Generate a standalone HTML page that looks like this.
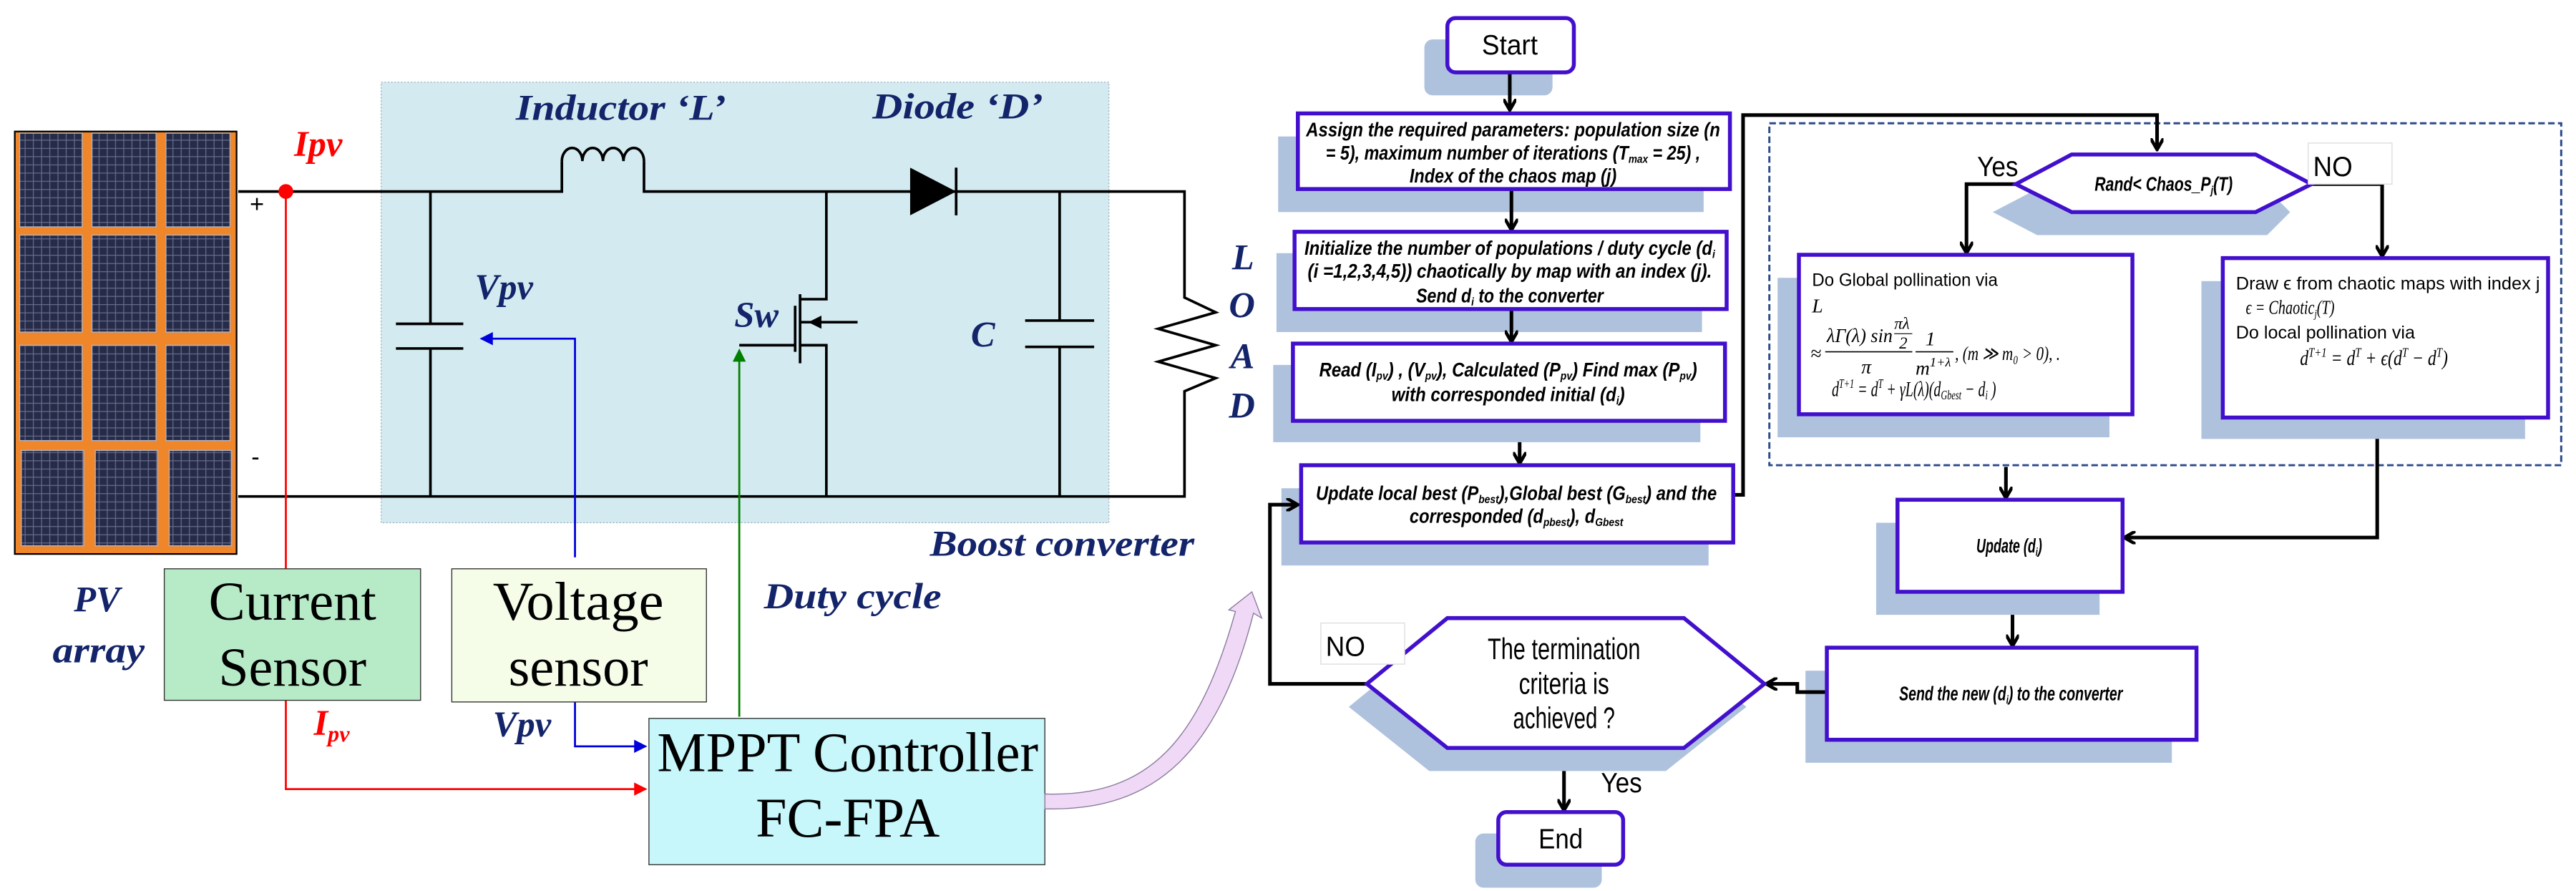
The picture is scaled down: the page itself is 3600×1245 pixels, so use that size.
<!DOCTYPE html>
<html><head><meta charset="utf-8"><style>
html,body{margin:0;padding:0;background:#fff}
svg{display:block}
.lab{font-family:"Liberation Serif",serif;font-style:italic;font-weight:bold;fill:#13246a}
.big{font-family:"Liberation Serif",serif;fill:#000}
.fc{font-family:"Liberation Sans",sans-serif;font-style:italic;font-weight:bold;fill:#000}
.fn{font-family:"Liberation Sans",sans-serif;fill:#000}
.m{font-family:"Liberation Serif",serif;font-style:italic;fill:#000}
.bx{fill:#fff;stroke:#4210cc;stroke-width:2.4}
.sh{fill:#afc2dd}
.ar{stroke:#000;stroke-width:2.2;fill:none}
</style></head><body>
<svg width="3600" height="1245" viewBox="0 0 1568 542" preserveAspectRatio="none" xmlns="http://www.w3.org/2000/svg">
<defs>
<marker id="ab" markerWidth="8" markerHeight="8" refX="6" refY="4" orient="auto" markerUnits="userSpaceOnUse"><path d="M0,0 L7,4 L0,8" fill="none" stroke="#000" stroke-width="2"/></marker>
<marker id="abl" markerWidth="8" markerHeight="8" refX="7" refY="4" orient="auto" markerUnits="userSpaceOnUse"><path d="M0,0 L8,4 L0,8 Z" fill="#0000dd"/></marker>
<marker id="ar" markerWidth="8" markerHeight="8" refX="7" refY="4" orient="auto" markerUnits="userSpaceOnUse"><path d="M0,0 L8,4 L0,8 Z" fill="#ff0000"/></marker>
<marker id="ag" markerWidth="8" markerHeight="8" refX="7" refY="4" orient="auto" markerUnits="userSpaceOnUse"><path d="M0,0 L8,4 L0,8 Z" fill="#008000"/></marker>
<pattern id="pv" width="5" height="5" patternUnits="userSpaceOnUse"><rect width="5" height="5" fill="#262c48"/><path d="M0,0.3H5M0.3,0V5" stroke="#6a7090" stroke-width="0.5"/></pattern>
</defs>

<!-- PV array -->
<rect x="9" y="80" width="135" height="257" fill="#f0862a" stroke="#000" stroke-width="1"/>
<g fill="url(#pv)" stroke="#b0b4c4" stroke-width="0.6">
<rect x="12" y="81" width="38" height="57"/><rect x="56" y="81" width="39" height="57"/><rect x="101" y="81" width="39" height="57"/>
<rect x="12" y="143" width="38" height="59"/><rect x="56" y="143" width="39" height="59"/><rect x="101" y="143" width="39" height="59"/>
<rect x="12" y="210" width="38" height="58"/><rect x="56" y="210" width="39" height="58"/><rect x="101" y="210" width="39" height="58"/>
<rect x="13" y="274" width="38" height="58"/><rect x="58" y="274" width="38" height="58"/><rect x="103" y="274" width="38" height="58"/>
</g>

<!-- boost box -->
<rect x="232" y="50" width="443" height="268" fill="#d3ebf0" stroke="#9ab" stroke-width="0.5" stroke-dasharray="1,1"/>

<!-- wires -->
<g stroke="#000" stroke-width="1.6" fill="none">
<path d="M145,116.5 H342 V98 M392,98 V116.5 H721 V181 L740,190 L705,200 L740,210 L705,220 L740,230 L721,238 V302 H145"/>
<path d="M342,98 a6.25,8 0 0 1 12.5,0 a6.25,8 0 0 1 12.5,0 a6.25,8 0 0 1 12.5,0 a6.25,8 0 0 1 12.5,0"/>
<path d="M262,116.5 V197 M262,212 V302 M241,197 H282 M241,212 H282"/>
<path d="M645,116.5 V195 M645,211 V302 M624,195 H666 M624,211 H666"/>
<path d="M503,116.5 V182 H487 M487,179 V221 M484,186 V214 M450,210 H484 M487,210 H503 V302 M487,196 H522"/>
<path d="M582,102 V131"/>
</g>
<path d="M554,102 L582,116.5 L554,131 Z" fill="#000"/>
<path d="M492,196 L500,192 L500,200 Z" fill="#000"/>
<circle cx="174" cy="116.5" r="4.5" fill="#ff0000"/>
<text x="152" y="129" class="fn" font-size="15">+</text>
<text x="153" y="283" class="fn" font-size="15">-</text>

<!-- signal lines -->
<path d="M174,116.5 V346 M174,426 V480 H393" stroke="#ff0000" stroke-width="1.2" fill="none" marker-end="url(#ar)"/>
<path d="M350,339 V206 H293" stroke="#0000dd" stroke-width="1.2" fill="none" marker-end="url(#abl)"/>
<path d="M350,427 V454 H393" stroke="#0000dd" stroke-width="1.2" fill="none" marker-end="url(#abl)"/>
<path d="M450,436 V213" stroke="#008000" stroke-width="1.2" fill="none" marker-end="url(#ag)"/>

<!-- labels -->
<text x="314" y="73" class="lab" font-size="22" textLength="128" lengthAdjust="spacingAndGlyphs">Inductor ‘L’</text>
<text x="531" y="72" class="lab" font-size="22" textLength="104" lengthAdjust="spacingAndGlyphs">Diode ‘D’</text>
<text x="179" y="95" class="lab" font-size="22" style="fill:#ff0000">Ipv</text>
<text x="289" y="182" class="lab" font-size="22">Vpv</text>
<text x="447" y="199" class="lab" font-size="22">Sw</text>
<text x="591" y="211" class="lab" font-size="22">C</text>
<text x="750" y="164" class="lab" font-size="22">L</text>
<text x="748" y="193" class="lab" font-size="22">O</text>
<text x="749" y="224" class="lab" font-size="22">A</text>
<text x="748" y="254" class="lab" font-size="22">D</text>
<text x="566" y="338" class="lab" font-size="22" textLength="161" lengthAdjust="spacingAndGlyphs">Boost converter</text>
<text x="465" y="370" class="lab" font-size="22" textLength="108" lengthAdjust="spacingAndGlyphs">Duty cycle</text>
<text x="45" y="372" class="lab" font-size="22">PV</text>
<text x="32" y="403" class="lab" font-size="22" textLength="56" lengthAdjust="spacingAndGlyphs">array</text>
<text x="191" y="447" class="lab" font-size="22" style="fill:#ff0000">I<tspan font-size="14" dy="4">pv</tspan></text>
<text x="300" y="448" class="lab" font-size="22">Vpv</text>

<!-- sensor boxes -->
<rect x="100" y="346" width="156" height="80" fill="#b7ebc8" stroke="#333" stroke-width="0.6"/>
<text x="178" y="377" class="big" font-size="33" text-anchor="middle" textLength="102" lengthAdjust="spacingAndGlyphs">Current</text>
<text x="178" y="417" class="big" font-size="33" text-anchor="middle" textLength="90" lengthAdjust="spacingAndGlyphs">Sensor</text>
<rect x="275" y="346" width="155" height="81" fill="#f5fde9" stroke="#333" stroke-width="0.6"/>
<text x="352" y="377" class="big" font-size="33" text-anchor="middle" textLength="104" lengthAdjust="spacingAndGlyphs">Voltage</text>
<text x="352" y="417" class="big" font-size="33" text-anchor="middle" textLength="85" lengthAdjust="spacingAndGlyphs">sensor</text>
<rect x="395" y="437" width="241" height="89" fill="#c7f6fb" stroke="#333" stroke-width="0.6"/>
<text x="516" y="469" class="big" font-size="34" text-anchor="middle" textLength="232" lengthAdjust="spacingAndGlyphs">MPPT Controller</text>
<text x="516" y="509" class="big" font-size="34" text-anchor="middle" textLength="112" lengthAdjust="spacingAndGlyphs">FC-FPA</text>

<!-- pink arrow -->
<path d="M636,483 C700,485 730,450 752,372 L748,371 L762,360 L768,376 L763,373 C742,455 705,494 636,492 Z" fill="#efd9f7" stroke="#8a7a9a" stroke-width="0.6"/>

<!-- ===== Flowchart ===== -->
<rect x="1077" y="75" width="482" height="208" fill="none" stroke="#2c4a8c" stroke-width="1.3" stroke-dasharray="4,2"/>

<!-- shadows -->
<rect class="sh" x="867" y="24" width="78" height="34" rx="5"/>
<rect class="sh" x="778" y="83" width="259" height="46"/>
<rect class="sh" x="777" y="154" width="259" height="48"/>
<rect class="sh" x="775" y="222" width="260" height="47"/>
<rect class="sh" x="780" y="297" width="260" height="47"/>
<path class="sh" d="M1213,129 L1240,115 L1380,115 L1394,129 L1380,143 L1240,143 Z"/>
<rect class="sh" x="1082" y="169" width="202" height="97"/>
<rect class="sh" x="1340" y="171" width="197" height="96"/>
<rect class="sh" x="1142" y="318" width="136" height="56"/>
<rect class="sh" x="1099" y="408" width="223" height="56"/>
<path class="sh" d="M821,430 L870,390 L1014,390 L1063,430 L1014,469 L870,469 Z"/>
<rect class="sh" x="898" y="507" width="77" height="33" rx="5"/>

<!-- arrows -->
<g class="ar">
<path d="M919,44 V66" marker-end="url(#ab)"/>
<path d="M920,116 V139" marker-end="url(#ab)"/>
<path d="M920,188 V207" marker-end="url(#ab)"/>
<path d="M925,269 V281" marker-end="url(#ab)"/>
<path d="M1055,301 H1061 V70 H1313 V90" marker-end="url(#ab)"/>
<path d="M1227,112 H1197 V153" marker-end="url(#ab)"/>
<path d="M1407,112 H1450 V155" marker-end="url(#ab)"/>
<path d="M1221,284 V302" marker-end="url(#ab)"/>
<path d="M1447,267 V327 H1294" marker-end="url(#ab)"/>
<path d="M1225,374 V392" marker-end="url(#ab)"/>
<path d="M1112,421 H1094 V416 H1076" marker-end="url(#ab)"/>
<path d="M832,416 H773 V307 H789" marker-end="url(#ab)"/>
<path d="M952,469 V492" marker-end="url(#ab)"/>
</g>

<!-- boxes -->
<rect class="bx" x="881" y="11" width="77" height="33" rx="5"/>
<text x="919" y="33" class="fn" font-size="17" text-anchor="middle" textLength="34" lengthAdjust="spacingAndGlyphs">Start</text>

<rect class="bx" x="790" y="69" width="263" height="46"/>
<text x="921" y="83" class="fc" font-size="12" text-anchor="middle" textLength="252" lengthAdjust="spacingAndGlyphs">Assign the required parameters: population size (n</text>
<text x="921" y="97" class="fc" font-size="12" text-anchor="middle" textLength="228" lengthAdjust="spacingAndGlyphs">= 5), maximum number of iterations (T<tspan font-size="7" dy="2">max</tspan><tspan dy="-2"> = 25) ,</tspan></text>
<text x="921" y="111" class="fc" font-size="12" text-anchor="middle" textLength="126" lengthAdjust="spacingAndGlyphs">Index of the chaos map (j)</text>

<rect class="bx" x="788" y="141" width="263" height="47"/>
<text x="919" y="155" class="fc" font-size="12" text-anchor="middle" textLength="250" lengthAdjust="spacingAndGlyphs">Initialize the number of populations / duty cycle (d<tspan font-size="7" dy="2">i</tspan></text>
<text x="919" y="169" class="fc" font-size="12" text-anchor="middle" textLength="246" lengthAdjust="spacingAndGlyphs">(i =1,2,3,4,5)) chaotically by map with an index (j).</text>
<text x="919" y="184" class="fc" font-size="12" text-anchor="middle" textLength="114" lengthAdjust="spacingAndGlyphs">Send d<tspan font-size="7" dy="2">i</tspan><tspan dy="-2"> to the converter</tspan></text>

<rect class="bx" x="787" y="209" width="263" height="47"/>
<text x="918" y="229" class="fc" font-size="12" text-anchor="middle" textLength="230" lengthAdjust="spacingAndGlyphs">Read (I<tspan font-size="7" dy="2">pv</tspan><tspan dy="-2">) , (V</tspan><tspan font-size="7" dy="2">pv</tspan><tspan dy="-2">), Calculated  (P</tspan><tspan font-size="7" dy="2">pv</tspan><tspan dy="-2">) Find max (P</tspan><tspan font-size="7" dy="2">pv</tspan><tspan dy="-2">)</tspan></text>
<text x="918" y="244" class="fc" font-size="12" text-anchor="middle" textLength="142" lengthAdjust="spacingAndGlyphs">with corresponded  initial (d<tspan font-size="7" dy="2">i</tspan><tspan dy="-2">)</tspan></text>

<rect class="bx" x="792" y="283" width="263" height="47"/>
<text x="923" y="304" class="fc" font-size="12" text-anchor="middle" textLength="244" lengthAdjust="spacingAndGlyphs">Update local best (P<tspan font-size="7" dy="2">best</tspan><tspan dy="-2">),Global best (G</tspan><tspan font-size="7" dy="2">best</tspan><tspan dy="-2">) and the</tspan></text>
<text x="923" y="318" class="fc" font-size="12" text-anchor="middle" textLength="130" lengthAdjust="spacingAndGlyphs">corresponded (d<tspan font-size="7" dy="2">pbest</tspan><tspan dy="-2">), d</tspan><tspan font-size="7" dy="2">Gbest</tspan></text>

<path class="bx" d="M1227,112 L1261,94 L1373,94 L1407,112 L1373,129 L1261,129 Z"/>
<text x="1317" y="116" class="fc" font-size="12" text-anchor="middle" textLength="84" lengthAdjust="spacingAndGlyphs">Rand&lt; Chaos_P<tspan font-size="7" dy="2">j</tspan><tspan dy="-2">(T)</tspan></text>
<text x="1216" y="107" class="fn" font-size="17" text-anchor="middle" textLength="25" lengthAdjust="spacingAndGlyphs">Yes</text>
<rect x="1405" y="87" width="51" height="25" fill="#fff" stroke="#ddd" stroke-width="0.6"/>
<text x="1408" y="107" class="fn" font-size="17" textLength="24" lengthAdjust="spacingAndGlyphs">NO</text>

<rect class="bx" x="1095" y="155" width="203" height="97"/>
<text x="1103" y="174" class="fn" font-size="11" textLength="113" lengthAdjust="spacingAndGlyphs">Do Global pollination via</text>
<text x="1103" y="190" class="m" font-size="12">L</text>
<text x="1102" y="219" class="m" font-size="12">≈</text>
<text x="1112" y="208" class="m" font-size="12" textLength="40" lengthAdjust="spacingAndGlyphs">λΓ(λ) sin</text>
<text x="1153" y="200" class="m" font-size="10">πλ</text>
<line x1="1153" y1="203" x2="1164" y2="203" stroke="#000" stroke-width="0.5"/>
<text x="1156" y="212" class="m" font-size="10">2</text>
<line x1="1111" y1="214" x2="1164" y2="214" stroke="#000" stroke-width="0.7"/>
<text x="1133" y="227" class="m" font-size="12">π</text>
<text x="1172" y="210" class="m" font-size="12">1</text>
<line x1="1166" y1="214" x2="1189" y2="214" stroke="#000" stroke-width="0.7"/>
<text x="1166" y="228" class="m" font-size="12">m<tspan font-size="8" dy="-5">1+λ</tspan></text>
<text x="1190" y="219" class="m" font-size="12" textLength="64" lengthAdjust="spacingAndGlyphs">, (m ≫ m₀ &gt; 0), .</text>
<text x="1115" y="241" class="m" font-size="13" textLength="100" lengthAdjust="spacingAndGlyphs">d<tspan font-size="8" dy="-5">T+1</tspan><tspan dy="5"> = d</tspan><tspan font-size="8" dy="-5">T</tspan><tspan dy="5"> + γL(λ)(d</tspan><tspan font-size="8" dy="2">Gbest</tspan><tspan dy="-2"> − d</tspan><tspan font-size="8" dy="2">i</tspan><tspan dy="-2"> )</tspan></text>

<rect class="bx" x="1353" y="157" width="198" height="97"/>
<text x="1361" y="176" class="fn" font-size="11" textLength="185" lengthAdjust="spacingAndGlyphs">Draw ϵ from chaotic maps with index j</text>
<text x="1367" y="191" class="m" font-size="12" textLength="54" lengthAdjust="spacingAndGlyphs">ϵ = Chaotic<tspan font-size="7" dy="2">j</tspan><tspan dy="-2">(T)</tspan></text>
<text x="1361" y="206" class="fn" font-size="11" textLength="109" lengthAdjust="spacingAndGlyphs">Do local pollination via</text>
<text x="1400" y="222" class="m" font-size="13" textLength="90" lengthAdjust="spacingAndGlyphs">d<tspan font-size="8" dy="-5">T+1</tspan><tspan dy="5"> = d</tspan><tspan font-size="8" dy="-5">T</tspan><tspan dy="5"> + ϵ(d</tspan><tspan font-size="8" dy="-5">T</tspan><tspan dy="5"> − d</tspan><tspan font-size="8" dy="-5">T</tspan><tspan dy="5">)</tspan></text>

<rect class="bx" x="1155" y="304" width="137" height="56"/>
<text x="1223" y="336" class="fc" font-size="12" text-anchor="middle" textLength="40" lengthAdjust="spacingAndGlyphs">Update (d<tspan font-size="7" dy="2">i</tspan><tspan dy="-2">)</tspan></text>

<rect class="bx" x="1112" y="394" width="225" height="56"/>
<text x="1224" y="426" class="fc" font-size="12" text-anchor="middle" textLength="136" lengthAdjust="spacingAndGlyphs">Send the new (d<tspan font-size="7" dy="2">i</tspan><tspan dy="-2">) to the converter</tspan></text>

<path class="bx" d="M832,416 L881,376 L1025,376 L1074,416 L1025,455 L881,455 Z"/>
<text x="952" y="401" class="fn" font-size="18" text-anchor="middle" textLength="93" lengthAdjust="spacingAndGlyphs">The termination</text>
<text x="952" y="422" class="fn" font-size="18" text-anchor="middle" textLength="55" lengthAdjust="spacingAndGlyphs">criteria is</text>
<text x="952" y="443" class="fn" font-size="18" text-anchor="middle" textLength="62" lengthAdjust="spacingAndGlyphs">achieved ?</text>
<rect x="804" y="379" width="51" height="25" fill="#fff" stroke="#ddd" stroke-width="0.6"/>
<text x="807" y="399" class="fn" font-size="17" textLength="24" lengthAdjust="spacingAndGlyphs">NO</text>
<text x="987" y="482" class="fn" font-size="17" text-anchor="middle" textLength="25" lengthAdjust="spacingAndGlyphs">Yes</text>

<rect class="bx" x="912" y="494" width="76" height="32" rx="5"/>
<text x="950" y="516" class="fn" font-size="17" text-anchor="middle" textLength="27" lengthAdjust="spacingAndGlyphs">End</text>
</svg>
</body></html>
